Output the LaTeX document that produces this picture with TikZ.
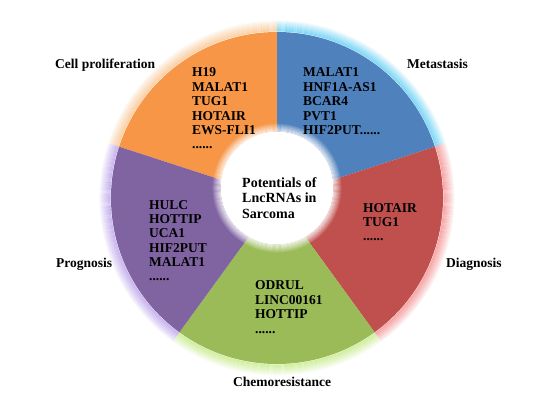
\documentclass[tikz,border=0pt]{standalone}
\usepackage{fontspec}
\setmainfont{Liberation Serif}
\definecolor{cOra}{RGB}{247,150,70}
\definecolor{cBlu}{RGB}{79,129,189}
\definecolor{cRed}{RGB}{192,80,77}
\definecolor{cGre}{RGB}{155,187,89}
\definecolor{cPur}{RGB}{128,100,162}
\definecolor{gOra}{RGB}{250,195,140}
\definecolor{gBlu}{RGB}{90,205,245}
\definecolor{gRed}{RGB}{245,140,140}
\definecolor{gGre}{RGB}{195,235,130}
\definecolor{gPur}{RGB}{185,160,235}
\newcommand{\lstblock}[1]{\begin{tabular}[t]{@{}l@{}}#1\end{tabular}}
\tikzset{
  listtext/.style={anchor=base west, inner sep=0pt,
    font=\fontsize{13.5}{14.4}\selectfont\bfseries},
  centertext/.style={anchor=base west, inner sep=0pt,
    font=\fontsize{14}{16}\selectfont\bfseries},
  labeltext/.style={anchor=base west, inner sep=0pt,
    font=\fontsize{13.5}{15}\selectfont\bfseries},
}
\newcommand{\sectorglow}[3]{%
  \foreach \k [evaluate=\k as \op using {0.8*(1-\k/12)},
               evaluate=\k as \rr using {166+\k}] in {1,...,11}{
    \draw[#3, line width=1.1pt, opacity=\op] (#1:\rr) arc[start angle=#1, end angle=#2, radius=\rr];
  }%
}
\begin{document}
\begin{tikzpicture}[x=1pt,y=1pt]
\useasboundingbox (0,0) rectangle (550,-412);
\fill[white] (0,0) rectangle (550,-412);
\begin{scope}[shift={(277,-198)}]
  \sectorglow{90}{162}{gOra}
  \sectorglow{18}{90}{gBlu}
  \sectorglow{-54}{18}{gRed}
  \sectorglow{-126}{-54}{gGre}
  \sectorglow{162}{234}{gPur}
  \fill[cOra] (0,0) -- (90:166) arc[start angle=90, end angle=162, radius=166] -- cycle;
  \fill[cBlu] (0,0) -- (18:166) arc[start angle=18, end angle=90, radius=166] -- cycle;
  \fill[cRed] (0,0) -- (-54:166) arc[start angle=-54, end angle=18, radius=166] -- cycle;
  \fill[cGre] (0,0) -- (-126:166) arc[start angle=-126, end angle=-54, radius=166] -- cycle;
  \fill[cPur] (0,0) -- (162:166) arc[start angle=162, end angle=234, radius=166] -- cycle;
\end{scope}
\begin{scope}[shift={(277,-188)}]
  \foreach \k [evaluate=\k as \op using {0.85*(1-\k/9)},
               evaluate=\k as \rr using {56+\k}] in {1,...,8}{
    \draw[white, line width=1.1pt, opacity=\op] (0,0) circle[radius=\rr];
  }
  \fill[white] (0,0) circle[radius=56.5];
\end{scope}
% centre text
\node[centertext] (centre) at (242,-187) {\lstblock{Potentials of\\LncRNAs in\\Sarcoma}};
% lists
\node[listtext] (lOra) at (192,-77) {\lstblock{H19\\MALAT1\\TUG1\\HOTAIR\\EWS-FLI1\\......}};
\node[listtext] (lBlu) at (303,-77) {\lstblock{MALAT1\\HNF1A-AS1\\BCAR4\\PVT1\\HIF2PUT......}};
\node[listtext] (lRed) at (363,-212) {\lstblock{HOTAIR\\TUG1\\......}};
\node[listtext] (lPur) at (149,-209) {\lstblock{HULC\\HOTTIP\\UCA1\\HIF2PUT\\MALAT1\\......}};
\node[listtext] (lGre) at (255,-290) {\lstblock{ODRUL\\LINC00161\\HOTTIP\\......}};
% labels
\node[labeltext] (tOra) at (55,-69) {Cell proliferation};
\node[labeltext] (tBlu) at (407,-69) {Metastasis};
\node[labeltext] (tRed) at (446,-268) {Diagnosis};
\node[labeltext] (tPur) at (56,-268) {Prognosis};
\node[labeltext] (tGre) at (233,-386) {Chemoresistance};
\end{tikzpicture}
\end{document}
